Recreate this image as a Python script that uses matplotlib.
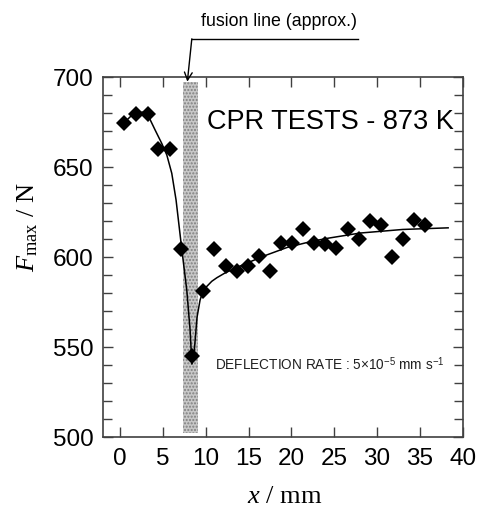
import numpy as np
import matplotlib
matplotlib.use("Agg")
import matplotlib.pyplot as plt
from matplotlib.ticker import MultipleLocator

plt.rcParams["font.family"] = ["Liberation Sans", "DejaVu Sans"]
plt.rcParams["mathtext.fontset"] = "custom"
plt.rcParams["mathtext.rm"] = "Liberation Serif"
plt.rcParams["mathtext.it"] = "Liberation Serif:italic"
plt.rcParams["mathtext.sf"] = "Liberation Sans"
plt.rcParams["hatch.linewidth"] = 1.0

# measured points (x in mm, Fmax in N)
pos_mm = [0.47, 1.87, 3.27, 4.43, 5.83, 7.12, 8.40, 9.68, 10.97, 12.37,
          13.65, 14.93, 16.22, 17.50, 18.78, 20.07, 21.35, 22.63, 23.92, 25.20,
          26.60, 27.88, 29.17, 30.45, 31.73, 33.02, 34.30, 35.58]
fmax_n = [674.6, 679.4, 679.4, 659.8, 659.8, 604.5, 545.0, 581.0, 604.5, 595.0,
          592.0, 595.0, 600.5, 592.0, 608.0, 608.0, 615.5, 608.0, 607.0, 604.8,
          615.4, 610.0, 620.2, 617.8, 599.8, 610.0, 620.5, 617.8]

# fitted curve
fit_x = [0.47, 1.2, 1.83, 2.6, 3.19, 4.08, 4.86, 5.45, 6.03, 6.53,
         7.2, 7.78, 8.17, 8.38, 8.6, 8.8, 8.98, 9.33, 9.72, 10.7,
         11.3, 12.2, 13.2, 15.2, 17.1, 19.5, 22.2, 24.1, 28.0, 33.0, 38.3]
fit_y = [674.6, 678.0, 679.6, 680.5, 679.4, 670.6, 663.1, 656.7, 646.5, 631.7,
         604.3, 581.7, 559.4, 540.5, 545.0, 556.0, 566.5, 576.0, 581.7, 586.5,
         588.5, 591.0, 593.3, 597.4, 601.1, 605.3, 608.5, 610.3, 613.3, 615.3, 616.2]

# fusion zone band
band_x = [7.3, 9.1]
band_y = [502, 697]

fig = plt.figure(figsize=(4.79, 5.07), dpi=100)
ax = fig.add_axes([103/479, 1-437/507, 359.7/479, 360/507])

ax.fill_between(band_x, band_y[0], band_y[1], facecolor="#c8c8c8",
                edgecolor="#808080", hatch=".....", linewidth=0, zorder=1)
ax.plot(fit_x, fit_y, color="black", lw=1.1, zorder=2)
ax.plot(pos_mm, fmax_n, linestyle="none", marker="D", ms=8.3,
        color="black", mec="black", mew=0, zorder=3)

ax.set_xlim(-2, 40)
ax.set_ylim(500, 700)
ax.xaxis.set_major_locator(MultipleLocator(5))
ax.yaxis.set_major_locator(MultipleLocator(50))
ax.yaxis.set_minor_locator(MultipleLocator(10))
ax.tick_params(which="both", direction="in", top=True, right=True,
               color="#404040", width=1.0)
ax.tick_params(axis="x", which="major", length=7.5, labelsize=17.5, pad=8)
ax.tick_params(axis="y", which="major", length=7.5, labelsize=17.5, pad=7)
ax.tick_params(axis="y", which="minor", length=6.5)
for s in ax.spines.values():
    s.set_color("#404040")
    s.set_linewidth(1.2)

ax.set_xlabel(r"$\mathit{x}$ / mm", fontsize=19, family="Liberation Serif")
ax.xaxis.set_label_coords(0.506, -0.135)
fig.text(28/479, 1-227/507, r"$\mathit{F}_{\mathrm{max}}$ / N", fontsize=19,
         family="Liberation Serif", rotation=90, ha="center", va="center")

ax.text(24.6, 675, "CPR TESTS - 873 K", fontsize=19.5, ha="center", va="center")
ax.text(24.5, 540.5, r"DEFLECTION RATE : 5×10$^{\mathsf{-5}}$ mm s$^{\mathsf{-1}}$",
        fontsize=9.8, ha="center", va="center", color="#202020")

# fusion line callout
ax.plot([8.37, 27.8], [720.9, 720.9], color="black", lw=1.0, clip_on=False)
ax.annotate("", xy=(7.85, 697.4), xytext=(8.37, 721.2),
            arrowprops=dict(arrowstyle="->", color="black", lw=1.0,
                            shrinkA=0, shrinkB=0, mutation_scale=14),
            annotation_clip=False)
ax.text(18.6, 731.0, "fusion line (approx.)", fontsize=12.8, ha="center", va="center")

fig.savefig("out.png", dpi=100)
